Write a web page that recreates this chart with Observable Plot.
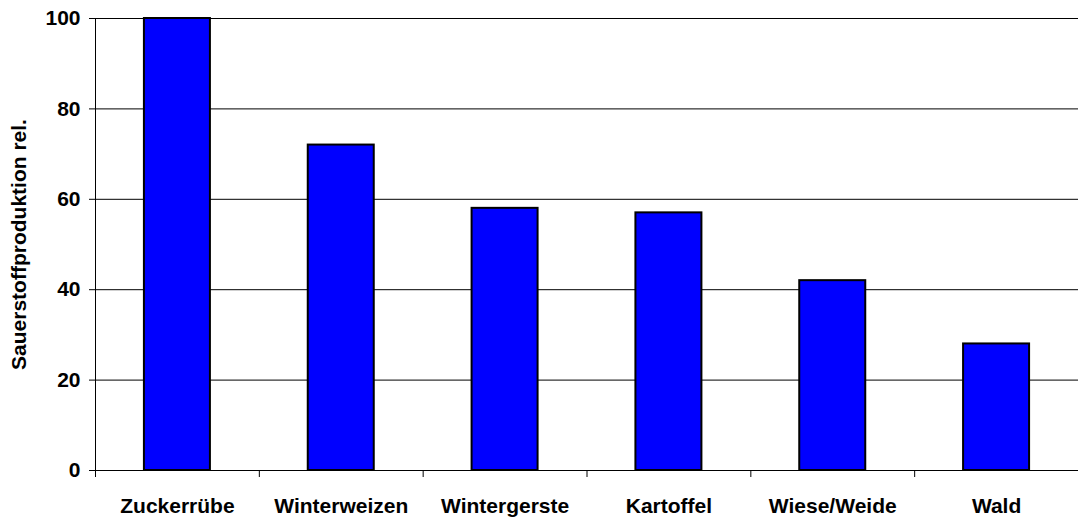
<!DOCTYPE html>
<html><head><meta charset="utf-8">
<script src="https://cdn.jsdelivr.net/npm/d3@7"></script>
<script src="https://cdn.jsdelivr.net/npm/@observablehq/plot@0.6"></script>
<style>html,body{margin:0;padding:0;background:#fff}</style>
</head><body><div id="chart"></div>
<script>
const categories = ["Zuckerrübe", "Winterweizen", "Wintergerste", "Kartoffel", "Wiese/Weide", "Wald"];
const values = [100, 72, 58, 57, 42, 28];
const yTicks = [0, 20, 40, 60, 80, 100];
const yLabel = "Sauerstoffproduktion rel.";

const data = categories.map((c, i) => ({category: c, value: values[i]}));
const W = 1078, H = 518, mL = 95, mR = 0, mT = 18, mB = 48;
const step = (W - mL - mR) / categories.length;
const inset = (step - 66) / 2;

const chart = Plot.plot({
  width: W, height: H,
  marginLeft: mL, marginRight: mR, marginTop: mT, marginBottom: mB,
  style: {fontFamily: "'Liberation Sans', Arial, sans-serif", fontSize: "21px", fontWeight: "bold", color: "#000", background: "#fff", overflow: "visible"},
  x: {domain: categories, padding: 0, round: false},
  y: {domain: [0, 100]},
  marks: [
    Plot.gridY(yTicks, {stroke: "#000", strokeOpacity: 1, strokeWidth: 1}),
    Plot.barY(data, {x: "category", y: "value", fill: "#0000FF", stroke: "#000", strokeWidth: 2, insetLeft: inset, insetRight: inset}),
    Plot.ruleY([0], {stroke: "#000"}),
    Plot.frame({anchor: "left", stroke: "#000"}),
    Plot.axisY(yTicks, {tickSize: 6, tickPadding: 9, label: yLabel, labelAnchor: "center", labelArrow: false, labelOffset: 84}),
    Plot.axisX({tickSize: 0, tickPadding: 28, label: null}),
    Plot.axisX({tickSize: 7, tickFormat: () => "", dx: -step / 2, label: null})
  ]
});
document.getElementById("chart").appendChild(chart);
</script>
</body></html>
